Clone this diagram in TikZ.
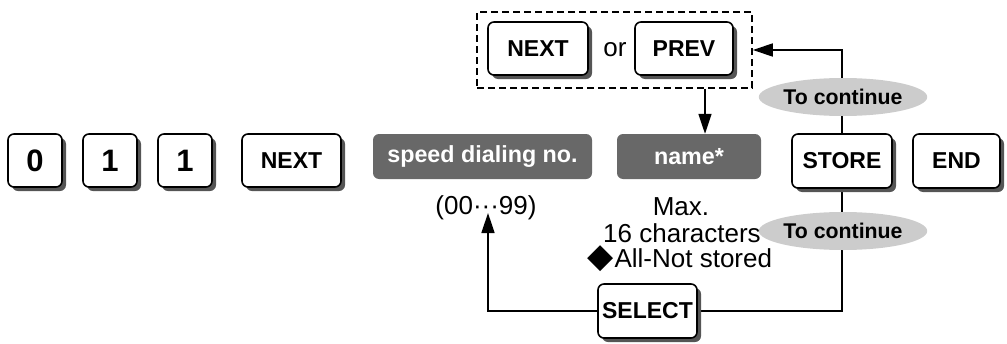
\documentclass[tikz,border=0pt]{standalone}
\usepackage{fontspec}
\setmainfont{Liberation Sans}
\newfontfamily\dejavu{DejaVu Sans}
\usetikzlibrary{shadows,shapes.geometric,arrows.meta,backgrounds}
\definecolor{shadowgray}{RGB}{85,85,85}
\definecolor{boxgray}{RGB}{104,104,104}
\definecolor{ovalgray}{RGB}{204,204,204}
\begin{document}
\begin{tikzpicture}[x=1pt,y=-1pt,
  keybox/.style={draw, line width=1.6pt, rounded corners=6pt, fill=white,
    font=\bfseries\fontsize{23}{23}\selectfont, inner sep=0pt,
    drop shadow={shadow xshift=4pt, shadow yshift=-4pt, fill=shadowgray, opacity=1}},
  digitkey/.style={keybox, minimum width=54pt, minimum height=53pt, font=\bfseries\fontsize{31}{31}\selectfont},
  graybox/.style={fill=boxgray, rounded corners=6pt, text=white, inner sep=0pt,
    font=\bfseries\fontsize{23.3}{23.3}\selectfont, minimum height=45pt},
  oval/.style={ellipse, fill=ovalgray, inner sep=0pt, minimum width=143pt, minimum height=38pt,
    font=\bfseries\fontsize{21.3}{21.3}\selectfont},
  plain/.style={font=\fontsize{26}{26}\selectfont, inner sep=0pt},
  conn/.style={line width=1.6pt},
  arr/.style={conn, -{Triangle[length=20pt,width=13pt]}}
]
\useasboundingbox (0,0) rectangle (1007,343);

% main row
\node[digitkey] (k0) at (35,160.5) {0};
\node[digitkey] (k1) at (110,160.5) {1};
\node[digitkey] (k2) at (185,160.5) {1};
\node[keybox, minimum width=99pt, minimum height=53pt] (nextk) at (291.5,160.5) {NEXT};
\node[graybox, minimum width=219pt] (speed) at (482.5,156.5) {speed dialing no.};
\node[graybox, minimum width=144pt] (name) at (689,156.5) {name*};
\node[keybox, minimum width=100pt, minimum height=54pt] (store) at (842,161) {STORE};
\node[keybox, minimum width=87pt, minimum height=54pt] (endk) at (956.5,161) {END};

% top choice
\node[draw, dash pattern=on 7pt off 4pt, line width=1.6pt, minimum width=275pt, minimum height=76pt, inner sep=0pt] (dbox) at (614.5,50) {};
\node[keybox, minimum width=100pt, minimum height=53pt] (nextb) at (538,48.5) {NEXT};
\node[plain] (or) at (615,50) {or};
\node[keybox, minimum width=98pt, minimum height=53pt] (prev) at (684,48.5) {PREV};

% bottom
\node[keybox, minimum width=99pt, minimum height=54pt] (sel) at (647.5,311) {SELECT};

% texts
\node[plain, anchor=base] (range) at (486,214) {(00···99)};
\node[plain, anchor=base] (max) at (681,215) {Max.};
\node[plain, anchor=base] (chars) at (682,242) {16 characters};
\node[plain, anchor=base] (notst) at (680,267) {{\dejavu\fontsize{34}{34}\selectfont\raisebox{-0.5pt}{◆}}\kern0.5pt All-Not stored};
\coordinate (rtip) at (488,213);

% ovals
\node[oval] (cont1) at (843,97) {To continue};
\node[oval] (cont2) at (843,231) {To continue};

\begin{scope}[on background layer]
\draw[arr] (store.north) -- (store.north |- dbox.east) -- (dbox.east);
\draw[arr] ([xshift=16pt]name.north |- dbox.south) -- ([xshift=16pt]name.north);
\draw[conn] (store.south) -- (store.south |- sel.east) -- (sel.east);
\draw[arr] (sel.west) -- (sel.west -| rtip) -- (rtip);
\end{scope}
\end{tikzpicture}
\end{document}
